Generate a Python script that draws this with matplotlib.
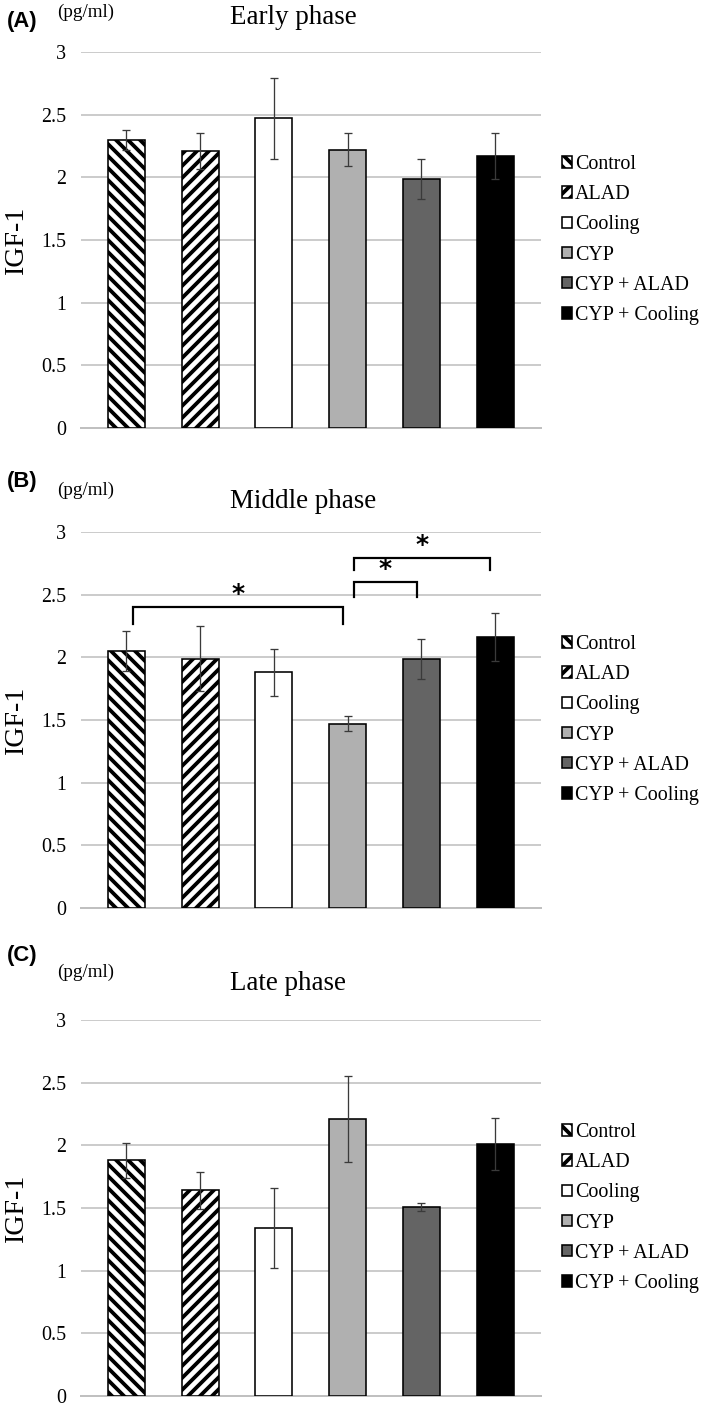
import matplotlib
matplotlib.use('Agg')
import matplotlib.pyplot as plt
import numpy as np

# groups and values (IGF-1, pg/ml)
groups = ['Control', 'ALAD', 'Cooling', 'CYP', 'CYP + ALAD', 'CYP + Cooling']
early_mean = [2.30, 2.21, 2.47, 2.22, 1.99, 2.17]
early_err = [0.08, 0.14, 0.32, 0.13, 0.16, 0.18]
middle_mean = [2.05, 1.99, 1.88, 1.47, 1.99, 2.16]
middle_err = [0.16, 0.26, 0.19, 0.06, 0.16, 0.19]
late_mean = [1.88, 1.64, 1.34, 2.21, 1.51, 2.01]
late_err = [0.14, 0.15, 0.32, 0.34, 0.03, 0.21]

# significance brackets for the middle phase: (group a, group b, top, leg)
middle_sig = [(0, 3, 2.40, 2.265), (3, 4, 2.60, 2.485), (3, 5, 2.79, 2.70)]

yticks = [0, 0.5, 1, 1.5, 2, 2.5, 3]
ytick_labels = ['0', '0.5', '1', '1.5', '2', '2.5', '3']

colors = ['white', 'white', 'white', '#b0b0b0', '#646464', 'black']
hatches = ['\\\\', '//', None, None, None, None]

plt.rcParams['hatch.linewidth'] = 3.8
plt.rcParams['hatch.color'] = 'black'
serif = ['Liberation Serif', 'DejaVu Serif']

W, H = 709, 1407
fig = plt.figure(figsize=(W / 72, H / 72), dpi=72)


def px_box(left, right, top, bottom):
    return [left / W, 1 - bottom / H, (right - left) / W, (bottom - top) / H]


def draw_panel(top, bottom, means, errs, title, letter, title_y, letter_y, unit_y, sig=None):
    ax = fig.add_axes(px_box(81, 541, top, bottom))
    x = np.arange(len(groups))
    bars = ax.bar(x, means, width=0.5, color=colors, edgecolor='black',
                  linewidth=1.6, zorder=3)
    for b, h in zip(bars, hatches):
        if h:
            b.set_hatch(h)
    ax.errorbar(x, means, yerr=errs, fmt='none', ecolor='#3a3a3a',
                elinewidth=1.3, capsize=4, capthick=1.3, zorder=4)

    ax.set_xlim(-0.614, 5.62)
    ax.set_ylim(0, 3)
    ax.set_yticks(yticks)
    ax.set_yticklabels(ytick_labels, family=serif, fontsize=20)
    ax.set_xticks([])
    ax.tick_params(axis='y', length=0, pad=15)
    ax.grid(axis='y', color='#c0c0c0', linewidth=1.6, zorder=0)
    ax.set_axisbelow(True)
    for s in ['top', 'left', 'right']:
        ax.spines[s].set_visible(False)
    ax.spines['bottom'].set_color('#c0c0c0')
    ax.spines['bottom'].set_linewidth(2)

    ax.set_ylabel('IGF-1', family=serif, fontsize=28)
    ax.yaxis.set_label_coords(-0.113, 0.5)

    if sig:
        for a, b, ytop, yleg in sig:
            xa, xb = a + 0.09, b - 0.065
            ax.plot([xa, xa, xb, xb], [yleg, ytop, ytop, yleg], color='black',
                    linewidth=2.2, zorder=5, solid_joinstyle='miter')
            ax.text((xa + xb) / 2, ytop + 0.01, '*', ha='center', va='bottom',
                    family='DejaVu Sans', fontweight='bold', fontsize=25)

    ax.legend(bars, groups, loc='center left', bbox_to_anchor=(1.045, 0.5),
              frameon=False, prop={'family': serif, 'size': 20},
              handlelength=0.5, handleheight=0.5, handletextpad=0.15,
              labelspacing=0.56, borderpad=0, borderaxespad=0)

    fig.text(230 / W, 1 - title_y / H, title, ha='left', va='center',
             family=serif, fontsize=27)
    fig.text(7 / W, 1 - letter_y / H, letter, ha='left', va='center',
             family=['Liberation Sans', 'DejaVu Sans'], fontweight='bold', fontsize=22)
    fig.text(57 / W, 1 - unit_y / H, '(pg/ml)', ha='left', va='center',
             family=serif, fontsize=19)
    return ax


draw_panel(52, 428, early_mean, early_err, 'Early phase', '(A)', 18, 21, 12)
draw_panel(532, 908, middle_mean, middle_err, 'Middle phase', '(B)', 502, 482, 490,
           sig=middle_sig)
draw_panel(1020, 1396, late_mean, late_err, 'Late phase', '(C)', 984, 955, 972)

fig.savefig('out.png', dpi=72)
